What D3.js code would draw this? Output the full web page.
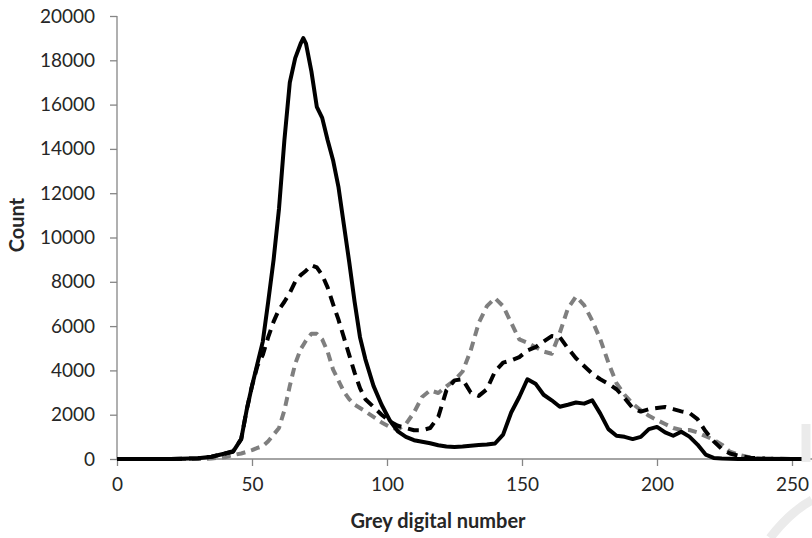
<!DOCTYPE html>
<html>
<head>
<meta charset="utf-8">
<script src="https://cdn.jsdelivr.net/npm/d3@7"></script>
<style>
  body { margin: 0; background: #fff; }
  svg { display: block; overflow: hidden; }
  .axis text { font-family: Lato, "Open Sans", sans-serif; font-size: 19px; fill: #262626; }
  .axis path, .axis line { stroke: #868686; stroke-width: 1.3px; }
  .title { font-family: Lato, "Open Sans", sans-serif; font-weight: bold; font-size: 20px; fill: #262626; }
</style>
</head>
<body>
<svg id="chart" width="812" height="538"></svg>
<script>
// grey level sample points shared by the three histograms
let greyLevels = [0, 10, 20, 30, 35, 40, 43, 46, 48, 50, 52, 54, 56, 58, 60, 62, 64, 66, 68, 69, 70,
  72, 74, 76, 78, 80, 82, 84, 86, 88, 90, 92, 95, 98, 101, 104, 107, 110, 113, 116, 119, 122, 125,
  128, 131, 134, 137, 140, 143, 146, 149, 152, 155, 158, 161, 164, 167, 170, 173, 176, 179, 182, 185,
  188, 191, 194, 197, 200, 203, 206, 209, 212, 215, 218, 221, 224, 227, 230, 235, 240, 245, 250, 255];

let solidCounts = [0, 0, 0, 30, 100, 250, 330, 900, 2200, 3300, 4300, 5300, 7100, 9000, 11300, 14400, 17000, 18100, 18750, 19000, 18750,
  17500, 15900, 15400, 14400, 13500, 12300, 10600, 8900, 7100, 5500, 4500, 3300, 2450, 1750, 1250, 1000, 850, 780, 710, 620, 560, 540,
  560, 600, 630, 650, 700, 1100, 2100, 2800, 3600, 3400, 2900, 2650, 2360, 2450, 2550, 2500, 2650, 2050, 1350, 1050,
  1000, 900, 1000, 1350, 1450, 1200, 1050, 1230, 1010, 650, 200, 50, 20, 10, 0, 0, 0, 0, 0, 0];

let dashedCounts = [0, 0, 0, 30, 100, 250, 350, 900, 2200, 3300, 4200, 4700, 5500, 6200, 6750, 7100, 7500, 8000, 8300, 8400, 8500,
  8750, 8650, 8300, 7750, 7000, 6300, 5500, 4700, 3900, 3200, 2700, 2350, 2000, 1700, 1500, 1400, 1300, 1300, 1400, 1900, 3100, 3550,
  3600, 3000, 2850, 3150, 3950, 4350, 4450, 4600, 4900, 5050, 5300, 5550, 5500, 5000, 4550, 4200, 3850, 3600, 3400, 3150,
  2750, 2300, 2140, 2250, 2300, 2350, 2250, 2150, 2080, 1800, 1250, 800, 450, 250, 150, 50, 20, 10, 0, 0];

let greyCounts = [0, 0, 0, 0, 20, 80, 180, 250, 320, 400, 500, 580, 800, 1100, 1400, 2200, 3300, 4300, 4950, 5150, 5350,
  5650, 5650, 5400, 4850, 4050, 3550, 3050, 2700, 2450, 2300, 2150, 1900, 1650, 1450, 1330, 1580, 2100, 2800, 3100, 2980, 3280, 3550,
  3950, 4900, 6150, 6900, 7260, 6900, 6150, 5400, 5250, 5050, 4850, 4750, 5700, 6800, 7330, 6950, 6250, 5400, 4350, 3420,
  2900, 2500, 2200, 1950, 1760, 1580, 1400, 1310, 1310, 1200, 1030, 870, 650, 330, 200, 60, 20, 10, 0, 0];

let xTicks = [0, 50, 100, 150, 200, 250];
let yTicks = [0, 2000, 4000, 6000, 8000, 10000, 12000, 14000, 16000, 18000, 20000];

let svg = d3.select("#chart");

let x = d3.scaleLinear().domain([0, 260]).range([117, 819]);
let y = d3.scaleLinear().domain([0, 20000]).range([459, 16]);

let xAxis = svg.append("g")
    .attr("class", "axis")
    .attr("transform", "translate(0,459)")
    .call(d3.axisBottom(x).tickValues(xTicks).tickFormat(d3.format("d")).tickSize(7).tickSizeOuter(0).tickPadding(12));
xAxis.select(".domain").attr("d", "M117,0H819");

let yAxis = svg.append("g")
    .attr("class", "axis")
    .attr("transform", "translate(117,0)")
    .call(d3.axisLeft(y).tickValues(yTicks).tickFormat(d3.format("d")).tickSize(7).tickSizeOuter(0).tickPadding(15));
yAxis.select(".domain").attr("d", "M0,459V16");

let series = [
  { values: greyCounts, color: "#7f7f7f", dash: "9,6" },
  { values: dashedCounts, color: "#000", dash: "11,7" },
  { values: solidCounts, color: "#000", dash: null }
];

let line = d3.line()
    .x(function(d) { return x(d[0]); })
    .y(function(d) { return y(d[1]); });

svg.selectAll(".series")
    .data(series).enter().append("path")
    .attr("class", "series")
    .attr("fill", "none")
    .attr("stroke", function(d) { return d.color; })
    .attr("stroke-width", 4)
    .attr("stroke-linejoin", "round")
    .attr("stroke-dasharray", function(d) { return d.dash; })
    .attr("d", function(d) { return line(greyLevels.map(function(g, i) { return [g, d.values[i]]; })); });

svg.append("text")
    .attr("class", "title")
    .attr("text-anchor", "middle")
    .attr("transform", "translate(24,225) rotate(-90)")
    .text("Count");

svg.append("text")
    .attr("class", "title")
    .attr("text-anchor", "middle")
    .attr("x", 438)
    .attr("y", 528)
    .text("Grey digital number");

// faint watermark fragment at the lower right corner
svg.append("path")
    .attr("fill", "none")
    .attr("stroke", "#ebebeb")
    .attr("stroke-width", 9)
    .attr("d", "M806,424V462 M770,538Q790,512 812,500");
</script>
</body>
</html>
